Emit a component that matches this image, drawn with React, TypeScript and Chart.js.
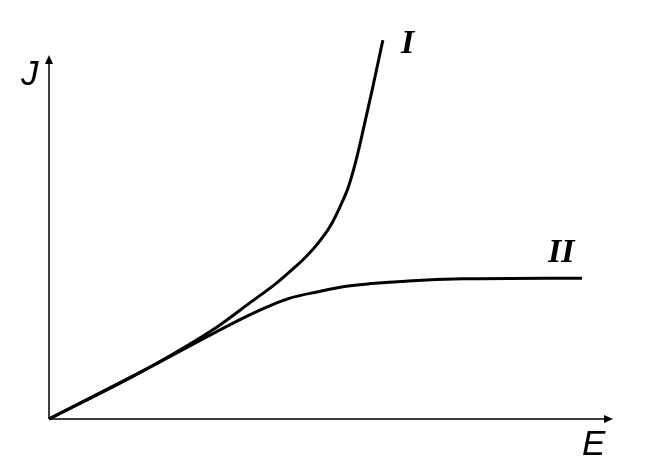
import React, { useEffect, useRef } from "react";
import { Chart, registerables } from "chart.js";

Chart.register(...registerables);

const curveI = [
  { x: 0, y: 0 },
  { x: 1.7, y: 1.35 },
  { x: 2.98, y: 2.53 },
  { x: 3.56, y: 3.19 },
  { x: 4.04, y: 3.74 },
  { x: 4.33, y: 4.13 },
  { x: 4.57, y: 4.48 },
  { x: 4.75, y: 4.79 },
  { x: 4.98, y: 5.28 },
  { x: 5.16, y: 5.83 },
  { x: 5.31, y: 6.38 },
  { x: 5.43, y: 7.02 },
  { x: 5.53, y: 7.66 },
  { x: 5.73, y: 9.04 },
  { x: 5.92, y: 10.41 },
];

const curveII = [
  { x: 0, y: 0 },
  { x: 1.7, y: 1.35 },
  { x: 3.44, y: 2.77 },
  { x: 3.87, y: 3.08 },
  { x: 4.27, y: 3.32 },
  { x: 4.75, y: 3.49 },
  { x: 5.34, y: 3.66 },
  { x: 6.37, y: 3.79 },
  { x: 7.34, y: 3.85 },
  { x: 9.45, y: 3.87 },
];

const seriesLabels = ["I", "II"];
const axisLabels = { x: "E", y: "J" };
const xRange = [0, 10];
const yRange = [0, 10];

const axesPlugin = {
  id: "axesArrows",
  afterDatasetsDraw(chart: any) {
    const ctx = chart.ctx;
    const xs = chart.scales.x;
    const ys = chart.scales.y;
    const x0 = xs.getPixelForValue(xRange[0]);
    const x1 = xs.getPixelForValue(xRange[1]);
    const y0 = ys.getPixelForValue(yRange[0]);
    const y1 = ys.getPixelForValue(yRange[1]);
    ctx.save();
    ctx.strokeStyle = "#000";
    ctx.fillStyle = "#000";
    ctx.lineWidth = 1.5;
    ctx.beginPath();
    ctx.moveTo(x0, y0);
    ctx.lineTo(x1 - 4, y0);
    ctx.moveTo(x0, y0);
    ctx.lineTo(x0, y1 + 4);
    ctx.stroke();
    // arrowheads
    ctx.beginPath();
    ctx.moveTo(x1, y0);
    ctx.lineTo(x1 - 9, y0 - 4);
    ctx.lineTo(x1 - 9, y0 + 4);
    ctx.closePath();
    ctx.fill();
    ctx.beginPath();
    ctx.moveTo(x0, y1);
    ctx.lineTo(x0 - 4, y1 + 9);
    ctx.lineTo(x0 + 4, y1 + 9);
    ctx.closePath();
    ctx.fill();

    ctx.textBaseline = "alphabetic";
    ctx.textAlign = "left";
    ctx.font = "italic 35px Arial, 'Liberation Sans', sans-serif";
    ctx.fillText(axisLabels.y, x0 - 28, y1 + 30);
    ctx.fillText(axisLabels.x, x1 - 31, y0 + 36);

    ctx.font = "bold italic 34px 'Times New Roman', 'Liberation Serif', serif";
    const endI = curveI[curveI.length - 1];
    const endII = curveII[curveII.length - 1];
    ctx.fillText(
      seriesLabels[0],
      xs.getPixelForValue(endI.x) + 18,
      ys.getPixelForValue(endI.y) + 13
    );
    ctx.fillText(
      seriesLabels[1],
      xs.getPixelForValue(endII.x) - 34,
      ys.getPixelForValue(endII.y) - 16
    );
    ctx.restore();
  },
};

export default function App() {
  const ref = useRef<HTMLCanvasElement | null>(null);
  useEffect(() => {
    if (!ref.current) return;
    const chart = new Chart(ref.current, {
      type: "line",
      data: {
        datasets: [
          {
            label: seriesLabels[0],
            data: curveI,
            borderColor: "#000",
            borderWidth: 3,
            pointRadius: 0,
            cubicInterpolationMode: "monotone",
            fill: false,
          },
          {
            label: seriesLabels[1],
            data: curveII,
            borderColor: "#000",
            borderWidth: 3,
            pointRadius: 0,
            cubicInterpolationMode: "monotone",
            fill: false,
          },
        ],
      },
      options: {
        animation: false,
        responsive: true,
        maintainAspectRatio: false,
        clip: false as any,
        layout: { padding: { left: 41, right: 35, top: 47, bottom: 43 } },
        plugins: {
          legend: { display: false },
          tooltip: { enabled: false },
        },
        scales: {
          x: { type: "linear", min: xRange[0], max: xRange[1], display: false },
          y: { type: "linear", min: yRange[0], max: yRange[1], display: false },
        },
      },
      plugins: [axesPlugin],
    });
    return () => chart.destroy();
  }, []);
  return (
    <div style={{ width: 640, height: 454, position: "relative" }}>
      <canvas ref={ref} />
    </div>
  );
}
